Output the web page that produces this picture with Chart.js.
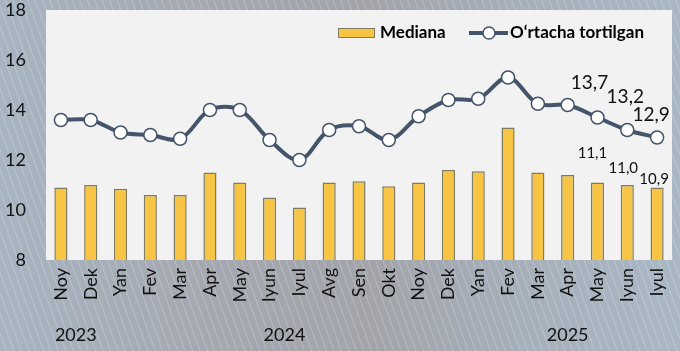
<!DOCTYPE html>
<html>
<head>
<meta charset="utf-8">
<script src="https://cdn.jsdelivr.net/npm/chart.js@4/dist/chart.umd.min.js"></script>
<style>
  html, body { margin: 0; padding: 0; }
  body {
    width: 680px; height: 351px; overflow: hidden;
    background:
      repeating-linear-gradient(70deg, rgba(255,255,255,0) 0px, rgba(255,255,255,0) 5px, rgba(255,255,255,0.22) 6px, rgba(255,255,255,0) 7px),
      linear-gradient(90deg, #a7b4c1 0%, #a5a8b0 30%, #a2a4aa 55%, #a6b0bb 78%, #a9b7c4 100%);
  }
  #wrap { position: relative; width: 680px; height: 351px; }
</style>
</head>
<body>
<div id="wrap"><canvas id="Chart"></canvas></div>
<script>
// months Noy 2023 .. Iyul 2025
const months = ["Noy","Dek","Yan","Fev","Mar","Apr","May","Iyun","Iyul","Avg","Sen","Okt","Noy","Dek","Yan","Fev","Mar","Apr","May","Iyun","Iyul"];
const years = [
  {label: "2023", from: 0, to: 1},
  {label: "2024", from: 2, to: 13},
  {label: "2025", from: 14, to: 20}
];
const mediana = [10.9, 11.0, 10.85, 10.6, 10.6, 11.5, 11.1, 10.5, 10.1, 11.1, 11.15, 10.95, 11.1, 11.6, 11.55, 13.3, 11.5, 11.4, 11.1, 11.0, 10.9];
const ortacha = [13.6, 13.6, 13.1, 13.0, 12.85, 14.0, 14.0, 12.8, 12.0, 13.2, 13.35, 12.8, 13.75, 14.4, 14.45, 15.3, 14.25, 14.2, 13.7, 13.2, 12.9];
const yTicks = [8, 10, 12, 14, 16, 18];
const labelled = [18, 19, 20]; // points that carry value labels

const FONT = "Lato, 'Open Sans', sans-serif";
const LINE_COL = "#44546a";
const BAR_COL = "#f7c443";
const BAR_EDGE = "#7f7b5f";

function fmt(v) { return v.toFixed(1).replace(".", ","); }

//plot area background, year labels, value labels, legend
const decor = {
  id: "decor",
  beforeDraw(chart) {
    const a = chart.chartArea, ctx = chart.ctx;
    ctx.save();
    ctx.fillStyle = "#f2f2f2";
    ctx.fillRect(a.left, a.top, a.right - a.left, a.bottom - a.top);
    ctx.restore();
  },
  afterDraw(chart) {
    const ctx = chart.ctx, x = chart.scales.x;
    ctx.save();
    // years
    ctx.fillStyle = "#111";
    ctx.font = "18px " + FONT;
    ctx.textAlign = "center";
    ctx.textBaseline = "middle";
    years.forEach(y => {
      const cx = (x.getPixelForValue(y.from) + x.getPixelForValue(y.to)) / 2;
      ctx.fillText(y.label, cx, 335);
    });
    // value labels
    const lineMeta = chart.getDatasetMeta(1), barMeta = chart.getDatasetMeta(0);
    const lineOff = [[-8, -35], [-2, -33], [-6, -23]];
    const barOff = [[-5, -29], [-4, -17], [-3, -8]];
    labelled.forEach((i, k) => {
      const p = lineMeta.data[i];
      ctx.font = "19px " + FONT;
      ctx.fillText(fmt(ortacha[i]), p.x + lineOff[k][0], p.y + lineOff[k][1]);
      const b = barMeta.data[i];
      ctx.font = "15px " + FONT;
      ctx.fillText(fmt(mediana[i]), b.x + barOff[k][0], b.y + barOff[k][1]);
    });
    // legend
    ctx.textAlign = "left";
    ctx.font = "bold 17px " + FONT;
    ctx.fillStyle = BAR_COL;
    ctx.strokeStyle = BAR_EDGE;
    ctx.lineWidth = 1;
    ctx.fillRect(338, 28, 37, 10);
    ctx.strokeRect(338.5, 28.5, 36, 9);
    ctx.fillStyle = "#000";
    ctx.fillText(chart.data.datasets[0].label, 380, 33);
    ctx.strokeStyle = LINE_COL;
    ctx.lineWidth = 4;
    ctx.beginPath(); ctx.moveTo(469, 33); ctx.lineTo(508, 33); ctx.stroke();
    ctx.beginPath(); ctx.arc(489, 33, 6, 0, Math.PI * 2);
    ctx.fillStyle = "#fff"; ctx.fill();
    ctx.lineWidth = 1.5; ctx.stroke();
    ctx.fillStyle = "#000";
    ctx.fillText(chart.data.datasets[1].label, 510, 33);
    ctx.restore();
  }
};

var myChart;
function Init() {
  const ctx = document.getElementById("Chart").getContext("2d");
  myChart = new Chart(ctx, {
    data: {
      labels: months,
      datasets: [{
        type: "bar",
        label: "Mediana",
        data: mediana,
        backgroundColor: BAR_COL,
        borderColor: BAR_EDGE,
        borderWidth: 1.5,
        barPercentage: 0.44,
        categoryPercentage: 1,
        order: 2
      }, {
        type: "line",
        label: "O\u2018rtacha tortilgan",
        data: ortacha,
        borderColor: LINE_COL,
        borderWidth: 4,
        tension: 0.35,
        pointRadius: 6.5,
        pointBackgroundColor: "#fff",
        pointBorderColor: LINE_COL,
        pointBorderWidth: 1.5,
        order: 1
      }]
    },
    options: {
      responsive: false,
      animation: false,
      layout: { padding: { top: 10, right: 3, left: 0, bottom: 0 } },
      plugins: { legend: { display: false }, tooltip: { enabled: false } },
      scales: {
        x: {
          grid: { display: false, drawTicks: false },
          border: { display: false },
          ticks: {
            minRotation: 90, maxRotation: 90, autoSkip: false,
            padding: 8, color: "#111",
            font: { family: FONT, size: 18 }
          },
          afterFit: s => { s.height = 91; s.paddingLeft = 0; s.paddingRight = 0; }
        },
        y: {
          min: 8, max: 18,
          grid: { display: false, drawTicks: false },
          border: { display: false },
          afterBuildTicks: s => { s.ticks = yTicks.map(v => ({ value: v })); },
          ticks: {
            padding: 20, color: "#111",
            font: { family: FONT, size: 18 }
          },
          afterFit: s => { s.width = 46; s.paddingTop = 0; s.paddingBottom = 0; }
        }
      }
    },
    plugins: [decor]
  });
}

const cv = document.getElementById("Chart");
cv.width = 680; cv.height = 351;
cv.style.width = "680px"; cv.style.height = "351px";
Init();
</script>
</body>
</html>
